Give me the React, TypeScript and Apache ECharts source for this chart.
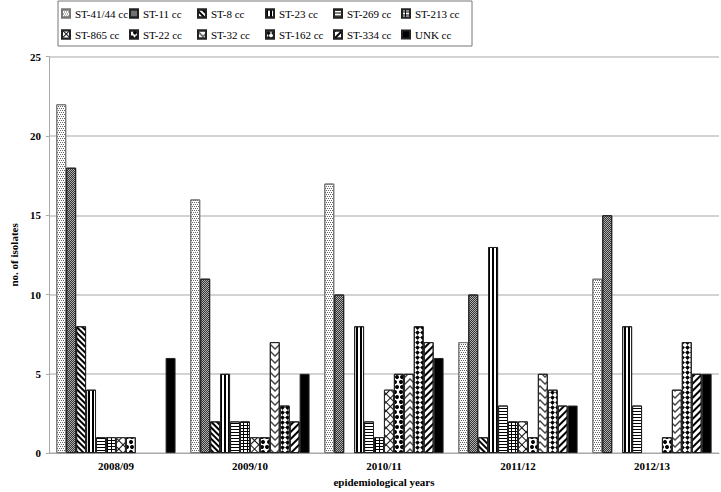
import React, { useEffect, useRef } from "react";
import * as echarts from "echarts";

const categories = ["2008/09", "2009/10", "2010/11", "2011/12", "2012/13"];
const seriesNames = [
  "ST-41/44 cc", "ST-11 cc", "ST-8 cc", "ST-23 cc", "ST-269 cc", "ST-213 cc",
  "ST-865 cc", "ST-22 cc", "ST-32 cc", "ST-162 cc", "ST-334 cc", "UNK cc",
];
const st4144 = [22, 16, 17, 7, 11];
const st11 = [18, 11, 10, 10, 15];
const st8 = [8, 2, 0, 1, 0];
const st23 = [4, 5, 8, 13, 8];
const st269 = [1, 2, 2, 3, 3];
const st213 = [1, 2, 1, 2, 0];
const st865 = [1, 1, 4, 2, 0];
const st22 = [1, 1, 5, 1, 1];
const st32 = [0, 7, 5, 5, 4];
const st162 = [0, 3, 8, 4, 7];
const st334 = [0, 2, 7, 3, 5];
const unk = [6, 5, 6, 3, 5];
const yTicks = [0, 5, 10, 15, 20, 25];

const allValues = [st4144, st11, st8, st23, st269, st213, st865, st22, st32, st162, st334, unk];

const FONT = "'Liberation Serif', 'Times New Roman', serif";

const fills = ["#fff", "#b0b0b0", "#fff", "#fff", "#fff", "#000", "#111", "#fff", "#fff", "#fff", "#fff", "#000"];

const decals: any[] = [
  { symbol: "rect", color: "#666", dashArrayX: [[1, 1], [0, 1, 1, 0]], dashArrayY: [1, 1] },
  { symbol: "rect", color: "#333", dashArrayX: [[1, 1], [0, 1, 1, 0]], dashArrayY: [1, 0] },
  { symbol: "rect", color: "#000", dashArrayX: [1, 0], dashArrayY: [1.2, 1.6], rotation: Math.PI / 4 },
  { symbol: "rect", color: "#000", dashArrayX: [2, 2], dashArrayY: [1, 0] },
  { symbol: "rect", color: "#000", dashArrayX: [1, 0], dashArrayY: [1, 2] },
  { symbol: "rect", color: "#fff", dashArrayX: [3, 1], dashArrayY: [2, 1], symbolKeepAspect: false },
  { symbol: "rect", color: "#fff", dashArrayX: [5, 1], dashArrayY: [5, 1], rotation: Math.PI / 4 },
  { symbol: "circle", color: "#000", dashArrayX: [[4, 1], [0, 2.5, 4, -1.5]], dashArrayY: [4, 1] },
  { symbol: "path://M0,0 L5,5 L10,0 L10,2 L5,7 L0,2 Z", color: "#444", dashArrayX: [10, 0], dashArrayY: [7, 0] },
  { symbol: "diamond", color: "#000", dashArrayX: [5, 0], dashArrayY: [5, 0], symbolSize: 0.95 },
  { symbol: "rect", color: "#000", dashArrayX: [1, 0], dashArrayY: [2, 2.5], rotation: -Math.PI / 4 },
  null,
];

export default function App() {
  const ref = useRef<HTMLDivElement>(null);
  useEffect(() => {
    if (!ref.current) return;
    const chart = echarts.init(ref.current, null, { renderer: "svg" });
    const series = seriesNames.map((name, i) => ({
      name,
      type: "bar",
      barGap: "0%",
      barCategoryGap: "11%",
      data: allValues[i].map((v) => (v === 0 ? "-" : v)),
      itemStyle: {
        color: fills[i],
        borderColor: i === 0 ? "#777" : "#222",
        borderWidth: 1,
        decal: decals[i] || undefined,
      },
      emphasis: { disabled: true },
    }));
    chart.setOption({
      animation: false,
      textStyle: { fontFamily: FONT },
      legend: {
        left: 58,
        top: 1,
        width: 430,
        padding: [2, 3, 1, 3],
        itemGap: 0,
        itemWidth: 8,
        itemHeight: 8,
        borderColor: "#777",
        borderWidth: 1,
        icon: "rect",
        data: seriesNames,
        textStyle: { fontFamily: FONT, fontSize: 11, color: "#000", width: 54, lineHeight: 21 },
        selectedMode: false,
      },
      grid: { left: 35, right: 2, top: 56.7, bottom: 35.3 },
      xAxis: {
        type: "category",
        data: categories,
        name: "epidemiological years",
        nameLocation: "middle",
        nameGap: 20,
        nameTextStyle: { fontFamily: FONT, fontWeight: "bold", fontSize: 11, color: "#000" },
        axisLine: { lineStyle: { color: "#aaa" } },
        axisTick: { lineStyle: { color: "#aaa" }, length: 4 },
        axisLabel: { fontFamily: FONT, fontWeight: "bold", fontSize: 11, color: "#000", margin: 7 },
      },
      yAxis: {
        type: "value",
        min: yTicks[0],
        max: yTicks[yTicks.length - 1],
        interval: 5,
        name: "no. of isolates",
        nameLocation: "middle",
        nameRotate: 90,
        nameGap: 20,
        nameTextStyle: { fontFamily: FONT, fontWeight: "bold", fontSize: 11, color: "#000" },
        axisLine: { show: true, lineStyle: { color: "#aaa" } },
        axisTick: { show: true, length: 3, lineStyle: { color: "#aaa" } },
        axisLabel: { fontFamily: FONT, fontWeight: "bold", fontSize: 11, color: "#000", margin: 8 },
        splitLine: { lineStyle: { color: "#c4c4c4", width: 1.5 } },
      },
      series,
    });
    return () => chart.dispose();
  }, []);
  return (
    <div
      ref={ref}
      style={{ position: "fixed", left: 0, top: 0, width: 721, height: 492, background: "#fff" }}
    />
  );
}
